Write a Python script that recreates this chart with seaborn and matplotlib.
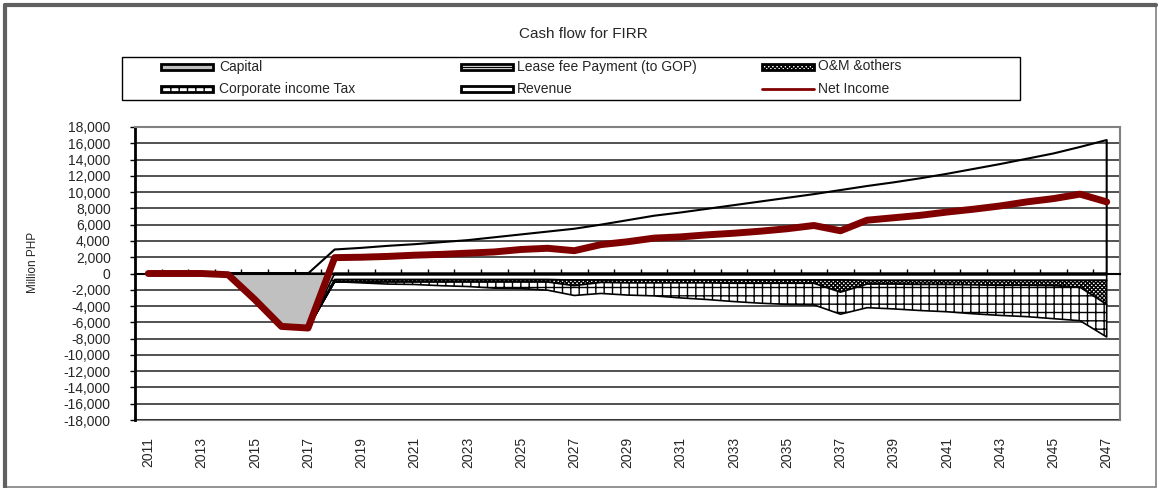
import numpy as np
import matplotlib
matplotlib.use("Agg")
import matplotlib.pyplot as plt
from matplotlib.patches import Rectangle
from matplotlib.ticker import FuncFormatter
import seaborn as sns

# data (million PHP)
years = list(range(2011, 2048))
capital = [0, 0, 0, -150, -3200, -6500, -6700,
           0, 0, 0, 0, 0, 0, 0, 0, 0,
           0, 0, 0, 0, 0, 0, 0, 0, 0, 0, 0,
           0, 0, 0, 0, 0, 0, 0, 0, 0, 0]
lease_fee = [0, 0, 0, 0, 0, 0, 0,
             -750, -750, -750, -750, -750, -750, -750, -750, -750,
             -800, -800, -800, -800, -800, -800, -800, -800, -800, -800, -800,
             -850, -850, -850, -850, -850, -850, -850, -850, -850, -850]
om_others = [0, 0, 0, 0, 0, 0, 0,
             -250, -300, -300, -300, -300, -300, -300, -300, -300,
             -700, -300, -350, -350, -350, -350, -400, -400, -400, -400, -1500,
             -450, -450, -500, -500, -550, -600, -600, -650, -850, -2950]
income_tax = [0, 0, 0, 0, 0, 0, 0,
              0, -100, -250, -300, -450, -550, -750, -800, -1000,
              -1200, -1350, -1500, -1600, -1850, -2050, -2250, -2450, -2600, -2650, -2700,
              -2900, -3050, -3200, -3350, -3550, -3700, -3850, -4050, -4100, -4000]
revenue = [0, 0, 0, 0, 0, 0, 0,
           2950, 3150, 3400, 3600, 3850, 4100, 4450, 4800, 5150,
           5500, 6000, 6550, 7100, 7500, 7950, 8400, 8850, 9300, 9750, 10250,
           10750, 11200, 11700, 12250, 12850, 13450, 14100, 14750, 15550, 16400]
net_income = [0, 0, 0, -150, -3200, -6500, -6700,
              1950, 2000, 2100, 2250, 2350, 2500, 2650, 2950, 3100,
              2800, 3550, 3900, 4350, 4500, 4750, 4950, 5200, 5500, 5900, 5250,
              6550, 6850, 7150, 7550, 7900, 8300, 8800, 9200, 9750, 8800]

sns.set_theme(style="white")
plt.rcParams['font.family'] = ['Liberation Sans', 'DejaVu Sans']
plt.rcParams['hatch.linewidth'] = 1.0
plt.rcParams['hatch.color'] = 'black'

W, H = 1159, 488
fig = plt.figure(figsize=(W / 100, H / 100), dpi=100)
fig.patch.set_facecolor('white')

ax = fig.add_axes([135 / W, 1 - 420 / H, (1120 - 135) / W, (420 - 127) / H])
ax.set_facecolor('white')

x = np.array(years)
c1 = np.array(capital)
c2 = c1 + np.array(lease_fee)
c3 = c2 + np.array(om_others)
c4 = c3 + np.array(income_tax)

ax.fill_between(x, 0, c1, facecolor='#c0c0c0', edgecolor='black', lw=1.2)
ax.fill_between(x, c1, c2, facecolor='white', edgecolor='black', hatch='---', lw=1.2)
ax.fill_between(x, c2, c3, facecolor='white', edgecolor='black', hatch='xxxxxxxx', lw=1.2)
ax.fill_between(x, c3, c4, facecolor='white', edgecolor='black', hatch='++', lw=1.2)
ax.fill_between(x, 0, revenue, facecolor='none', edgecolor='black', lw=1.5)

sns.lineplot(x=years, y=net_income, ax=ax, color='#800000', linewidth=5,
             solid_capstyle='round', solid_joinstyle='round', zorder=5)

ax.set_xlim(2010.5, 2047.5)
ax.set_ylim(-18000, 18000)
ax.set_yticks(range(-18000, 18001, 2000))
ax.yaxis.set_major_formatter(FuncFormatter(lambda v, p: f"{int(v):,}"))
ax.grid(axis='y', color='#222222', lw=1.1)
ax.grid(axis='x', visible=False)
ax.set_axisbelow(True)
ax.set_xlabel('')
ax.set_ylabel('')

# category axis crossing at zero, tick marks between categories
ax.spines['bottom'].set_position(('data', 0))
ax.spines['bottom'].set_color('black')
ax.spines['bottom'].set_linewidth(1.5)
ax.spines['bottom'].set_zorder(4)
ax.set_xticks([y + 0.5 for y in years[:-1]])
ax.tick_params(axis='x', direction='in', length=3.5, width=1, color='black',
               labelbottom=False, bottom=True)
ax.tick_params(axis='y', direction='out', length=3.5, width=1, color='black',
               left=True, pad=14, labelsize=10)

ax.spines['left'].set_color('black')
ax.spines['left'].set_linewidth(2)
for s in ['top', 'right']:
    ax.spines[s].set_color('#808080')
    ax.spines[s].set_linewidth(1.5)

secax = ax.secondary_xaxis('bottom')
secax.set_xticks(years[::2])
secax.set_xticklabels([str(y) for y in years[::2]])
secax.tick_params(length=0, pad=12, labelrotation=90, labelsize=10)
secax.spines['bottom'].set_color('#808080')
secax.spines['bottom'].set_linewidth(1.5)

fig.text(583 / W, 1 - 34 / H, 'Cash flow for FIRR', ha='center', va='center', fontsize=11)
fig.text(33 / W, 1 - 262 / H, 'Million PHP', rotation=90, ha='center', va='center', fontsize=8.5)

# legend and chart frame drawn in pixel coordinates
ov = fig.add_axes([0, 0, 1, 1], zorder=-1)
ov.set_xlim(0, W)
ov.set_ylim(H, 0)
ov.axis('off')

ov.add_patch(Rectangle((122, 57), 898, 43, facecolor='white', edgecolor='black', lw=1))
row1, row2 = 66.5, 89
ov.add_patch(Rectangle((161, row1 - 3), 52, 6, facecolor='#c0c0c0', edgecolor='black', lw=2))
ov.text(219, row1, 'Capital', va='center', ha='left', fontsize=10)
ov.add_patch(Rectangle((161, row2 - 3), 52, 6, facecolor='white', edgecolor='black', lw=2, hatch='++'))
ov.text(219, row2, 'Corporate income Tax', va='center', ha='left', fontsize=10)
ov.add_patch(Rectangle((461, row1 - 3), 52, 6, facecolor='white', edgecolor='black', lw=2))
ov.plot([461, 513], [row1, row1], color='black', lw=1)
ov.text(517, row1, 'Lease fee Payment (to GOP)', va='center', ha='left', fontsize=10)
ov.add_patch(Rectangle((461, row2 - 3), 52, 6, facecolor='white', edgecolor='black', lw=2))
ov.text(517, row2, 'Revenue', va='center', ha='left', fontsize=10)
ov.add_patch(Rectangle((762, row1 - 3), 52, 6, facecolor='white', edgecolor='black', lw=2, hatch='xxxxxxxx'))
ov.text(818, row1, 'O&M &others', va='center', ha='left', fontsize=10)
ov.plot([762, 814], [row2, row2], color='#800000', lw=2)
ov.text(818, row2, 'Net Income', va='center', ha='left', fontsize=10)

ov.add_patch(Rectangle((5, 5), 1151, 482, fill=False, edgecolor='#808080', lw=1.2))
ov.plot([5, 5], [5, 488], color='#606060', lw=3)
ov.plot([5, 1156], [5, 5], color='#606060', lw=3)

fig.savefig('out.png', dpi=100, facecolor='white')
